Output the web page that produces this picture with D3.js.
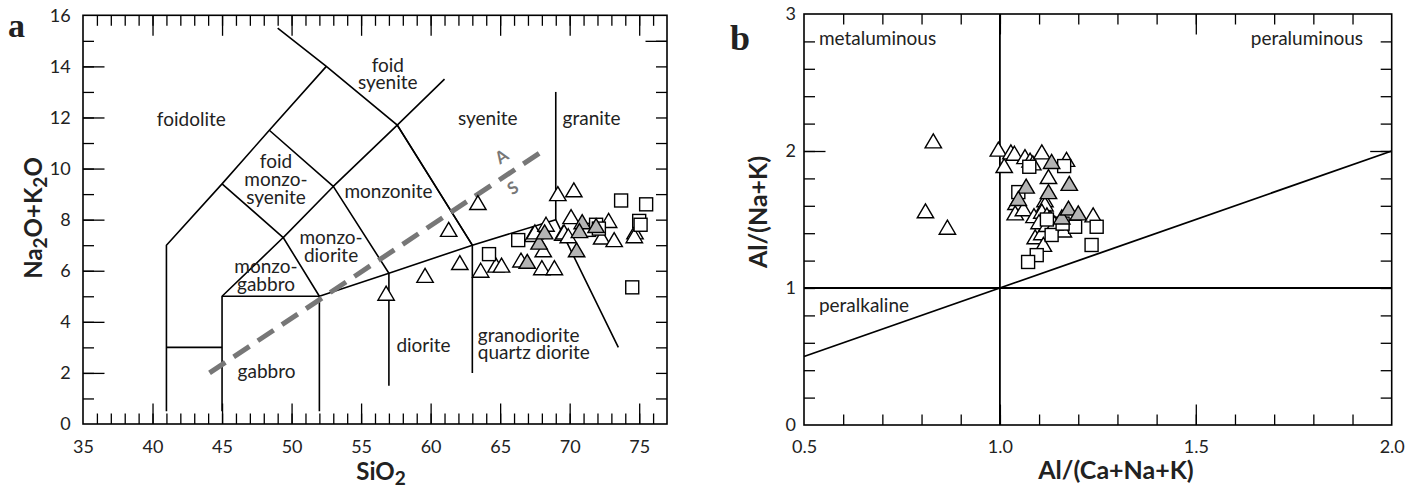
<!DOCTYPE html>
<html><head><meta charset="utf-8">
<script src="https://cdn.jsdelivr.net/npm/d3@7"></script>
<style>
body{margin:0;background:#fff}
svg{display:block}
text{font-family:Lato,'Open Sans',sans-serif;fill:#222}
</style>
</head><body>
<svg id="chart" width="1419" height="493"></svg>
<script>
// ---------- Panel a: TAS (SiO2 vs Na2O+K2O) ----------
const tasXLabels = [35,40,45,50,55,60,65,70,75];
const tasYLabels = [0,2,4,6,8,10,12,14,16];
const tasOpenTri = [[56.8,5.1],[59.6,5.8],[61.3,7.6],[62.1,6.3],[63.4,8.65],[63.6,6.0],[64.7,6.2],[65.1,6.2],
  [66.5,6.4],[67.35,7.4],[67.5,7.5],[68.0,6.1],[68.9,6.1],[68.1,6.8],[68.3,7.8],[69.15,9.0],[70.3,9.15],
  [69.5,7.45],[69.6,7.5],[69.9,7.35],[70.1,8.1],[72.8,7.95],[72.3,7.3],[73.2,7.2],[74.7,7.5],[74.65,7.35]];
const tasGrayTri = [[66.95,6.35],[67.8,7.1],[68.2,7.5],[70.5,6.8],[70.9,7.9],[70.7,7.55],[71.9,7.75]];
const tasSquare = [[64.2,6.65],[66.3,7.2],[71.4,7.6],[71.9,7.8],[72.1,7.65],[73.7,8.75],[75.5,8.6],[75.0,7.95],[75.1,7.8],[74.5,5.35]];
const tasBoundaries = [
  [[49,15.5],[52.5,14],[57.6,11.7],[63,7]],
  [[41,0.5],[41,7],[45,9.4],[48.4,11.5],[52.5,14]],
  [[61,13.5],[57.6,11.7],[53,9.3],[48.4,11.5]],
  [[45,9.4],[49.4,7.3],[53,9.3]],
  [[45,0.5],[45,5],[49.4,7.3],[52,5]],
  [[45,5],[52,5],[52,0.5]],
  [[52,5],[57,5.9],[63,7],[69,8],[73.5,3]],
  [[57,1.5],[57,5.9],[53,9.3]],
  [[63,2],[63,7],[57.6,11.7]],
  [[69,8],[69,13]],
  [[41,3],[45,3]]
];
const tasASLine = [[44.1,2.0],[68.1,10.7]];
const tasFields = [
  {t:["foidolite"], x:42.79, y:11.67, a:"middle"},
  {t:["foid","monzo-","syenite"], x:48.88, y:10.01, a:"middle"},
  {t:["foid","syenite"], x:56.92, y:13.79, a:"middle"},
  {t:["syenite"], x:64.11, y:11.71, a:"middle"},
  {t:["granite"], x:71.58, y:11.71, a:"middle"},
  {t:["monzonite"], x:56.97, y:8.84, a:"middle"},
  {t:["monzo-","diorite"], x:52.84, y:7.05, a:"middle"},
  {t:["monzo-","gabbro"], x:48.16, y:5.90, a:"middle"},
  {t:["gabbro"], x:48.2, y:1.79, a:"middle"},
  {t:["diorite"], x:59.49, y:2.83, a:"middle"},
  {t:["granodiorite","quartz diorite"], x:63.39, y:3.22, a:"start"}
];
const tasASLabels = [{t:"A", x:65.1, y:10.47},{t:"S", x:65.92, y:9.24}];

// ---------- Panel b: A/NK vs A/CNK ----------
const acnkXLabels = [0.5,1.0,1.5,2.0];
const acnkYLabels = [0,1,2,3];
const acnkOpenTri = [[0.83,2.07],[0.81,1.56],[0.866,1.44],
  [0.996,2.01],[1.011,1.89],[1.028,1.99],[1.037,1.98],[1.064,1.955],[1.077,1.93],[1.084,1.91],[1.107,1.99],
  [1.17,1.935],[1.124,1.81],[1.041,1.62],[1.039,1.545],[1.06,1.575],[1.115,1.64],[1.115,1.61],[1.087,1.525],
  [1.107,1.557],[1.12,1.53],[1.128,1.51],[1.238,1.53],[1.162,1.42],[1.09,1.37],[1.107,1.40],[1.111,1.315],
  [1.10,1.48],[1.12,1.46],[1.14,1.47]];
const acnkGrayTri = [[1.132,1.92],[1.177,1.76],[1.067,1.74],[1.047,1.65],[1.124,1.70],[1.158,1.515],[1.175,1.58],[1.20,1.545]];
const acnkSquare = [[1.075,1.885],[1.164,1.89],[1.047,1.70],[1.192,1.447],[1.247,1.447],[1.234,1.314],[1.132,1.387],
  [1.094,1.24],[1.072,1.19],[1.12,1.5],[1.16,1.47]];
const acnkBoundaries = [
  [[1,0],[1,3]],
  [[0.5,1],[2,1]],
  [[0.5,0.5],[2,2]]
];
const acnkFields = [
  {t:"metaluminous", x:0.538, y:2.774, a:"start"},
  {t:"peraluminous", x:1.927, y:2.774, a:"end"},
  {t:"peralkaline", x:0.538, y:0.827, a:"start"}
];

const svg = d3.select("#chart");
const triPath = "M0,-7.5L8.2,6.5L-8.2,6.5Z";
const GRAY = "#b4b4b4";

function range(a,b,s){const r=[];for(let v=a;v<=b+1e-9;v+=s)r.push(+v.toFixed(4));return r;}

function drawTicks(g, x, y, xMinor, xMajor, yMinor, yMajor, yRightMajor){
  const [x0,x1]=x.range(), [y0,y1]=y.range();
  const add=(sel,tr,ax)=>{const gg=g.append("g").attr("transform",tr).call(ax);gg.select(".domain").remove();gg.selectAll("line").attr("stroke","#000").attr("stroke-width",1.3);};
  add(g,`translate(0,${y0})`,d3.axisBottom(x).tickValues(xMinor).tickSize(-10.5).tickFormat(""));
  add(g,`translate(0,${y0})`,d3.axisBottom(x).tickValues(xMajor).tickSize(-20.5).tickFormat(""));
  add(g,`translate(0,${y1})`,d3.axisTop(x).tickValues(xMinor).tickSize(-10.5).tickFormat(""));
  add(g,`translate(0,${y1})`,d3.axisTop(x).tickValues(xMajor).tickSize(-20.5).tickFormat(""));
  add(g,`translate(${x0},0)`,d3.axisLeft(y).tickValues(yMinor).tickSize(-11).tickFormat(""));
  add(g,`translate(${x0},0)`,d3.axisLeft(y).tickValues(yMajor).tickSize(-21.5).tickFormat(""));
  add(g,`translate(${x1},0)`,d3.axisRight(y).tickValues(yMinor).tickSize(-11).tickFormat(""));
  add(g,`translate(${x1},0)`,d3.axisRight(y).tickValues(yRightMajor).tickSize(-21.5).tickFormat(""));
}
function drawLabels(g,x,y,xl,yl,fmtX,fmtY,padB,padL){
  const [x0]=x.range(),[y0]=y.range();
  const gb=g.append("g").attr("transform",`translate(0,${y0})`).call(d3.axisBottom(x).tickValues(xl).tickSize(0).tickPadding(padB).tickFormat(fmtX));
  const gl=g.append("g").attr("transform",`translate(${x0},0)`).call(d3.axisLeft(y).tickValues(yl).tickSize(0).tickPadding(padL).tickFormat(fmtY));
  [gb,gl].forEach(s=>{s.select(".domain").remove();s.attr("font-family",null).attr("font-size",null);
    s.selectAll("text").style("font-family","Lato").style("font-size","18px").attr("fill","#222");});
}
function drawMarkers(g,x,y,open,sq,gray){
  g.append("g").selectAll("path").data(open).join("path").attr("d",triPath)
    .attr("transform",d=>`translate(${x(d[0])},${y(d[1])})`).attr("fill","#fff").attr("stroke","#000").attr("stroke-width",1.4);
  g.append("g").selectAll("rect").data(sq).join("rect")
    .attr("x",d=>x(d[0])-6.5).attr("y",d=>y(d[1])-6.5).attr("width",13).attr("height",13)
    .attr("fill","#fff").attr("stroke","#000").attr("stroke-width",1.4);
  g.append("g").selectAll("path").data(gray).join("path").attr("d",triPath)
    .attr("transform",d=>`translate(${x(d[0])},${y(d[1])})`).attr("fill",GRAY).attr("stroke","#000").attr("stroke-width",1.4);
}

// ===== Panel a =====
{
  const x = d3.scaleLinear().domain([35,77]).range([83,667]);
  const y = d3.scaleLinear().domain([0,16]).range([424,15.3]);
  const g = svg.append("g");
  const line = d3.line().x(d=>x(d[0])).y(d=>y(d[1]));
  g.append("g").selectAll("path").data(tasBoundaries).join("path").attr("d",line)
    .attr("fill","none").attr("stroke","#000").attr("stroke-width",1.6).attr("stroke-linejoin","miter");
  g.append("path").attr("d",line(tasASLine)).attr("fill","none").attr("stroke","#777").attr("stroke-width",5).attr("stroke-dasharray","19,10");
  const ang = Math.atan2(y(tasASLine[1][1])-y(tasASLine[0][1]), x(tasASLine[1][0])-x(tasASLine[0][0]))*180/Math.PI;
  g.append("g").selectAll("text").data(tasASLabels).join("text")
    .attr("transform",d=>`translate(${x(d.x)},${y(d.y)}) rotate(${ang})`).attr("text-anchor","middle").attr("dy","0.35em")
    .style("font-size","17px").style("font-weight","bold").attr("fill","#777").style("fill","#777").text(d=>d.t);
  tasFields.forEach(f=>{
    const t=g.append("text").attr("x",x(f.x)).attr("y",y(f.y)).attr("text-anchor",f.a).style("font-size","19px");
    f.t.forEach((s,i)=>t.append("tspan").attr("x",x(f.x)).attr("dy",i?17.6:0).text(s));
  });
  drawTicks(g,x,y,range(36,76,1),range(40,75,5),range(1,15,1),range(2,14,2),[15]);
  drawMarkers(g,x,y,tasOpenTri,tasSquare,tasGrayTri);
  g.append("rect").attr("x",83).attr("y",15.3).attr("width",667-83).attr("height",424-15.3).attr("fill","none").attr("stroke","#000").attr("stroke-width",1.6);
  drawLabels(g,x,y,tasXLabels,tasYLabels,d3.format("d"),d3.format("d"),16,12.3);
  // axis titles
  const xt=g.append("text").attr("x",381).attr("y",480).attr("text-anchor","middle").style("font-size","24px").style("font-weight","bold");
  xt.append("tspan").text("SiO");xt.append("tspan").attr("dy",5).style("font-size","19px").text("2");
  const yt=g.append("text").attr("transform","translate(42,218) rotate(-90)").attr("text-anchor","middle").style("font-size","24px").style("font-weight","bold");
  yt.append("tspan").text("Na");yt.append("tspan").attr("dy",5).style("font-size","19px").text("2");
  yt.append("tspan").attr("dy",-5).text("O+K");yt.append("tspan").attr("dy",5).style("font-size","19px").text("2");
  yt.append("tspan").attr("dy",-5).text("O");
  g.append("text").attr("x",8).attr("y",37).style("font-family","'Liberation Serif',serif").style("font-size","34px").style("font-weight","bold").text("a");
}

// ===== Panel b =====
{
  const x = d3.scaleLinear().domain([0.5,2]).range([804,1391.7]);
  const y = d3.scaleLinear().domain([0,3]).range([425,14]);
  const g = svg.append("g");
  const line = d3.line().x(d=>x(d[0])).y(d=>y(d[1]));
  drawTicks(g,x,y,range(0.6,1.9,0.1),[1.0,1.5],range(0.2,2.8,0.2),[2],[2]);
  g.append("g").selectAll("path").data(acnkBoundaries).join("path").attr("d",line)
    .attr("fill","none").attr("stroke","#000").attr("stroke-width",1.8);
  g.append("g").selectAll("text").data(acnkFields).join("text")
    .attr("x",d=>x(d.x)).attr("y",d=>y(d.y)).attr("text-anchor",d=>d.a).style("font-size","19px").text(d=>d.t);
  drawMarkers(g,x,y,acnkOpenTri,acnkSquare,acnkGrayTri);
  g.append("rect").attr("x",804).attr("y",14).attr("width",1391.7-804).attr("height",425-14).attr("fill","none").attr("stroke","#000").attr("stroke-width",1.6);
  drawLabels(g,x,y,acnkXLabels,acnkYLabels,d3.format(".1f"),d3.format("d"),15,8);
  g.append("text").attr("x",1116).attr("y",479).attr("text-anchor","middle").style("font-size","25px").style("font-weight","bold").text("Al/(Ca+Na+K)");
  g.append("text").attr("transform","translate(767,212) rotate(-90)").attr("text-anchor","middle").style("font-size","25px").style("font-weight","bold").text("Al/(Na+K)");
  g.append("text").attr("x",730).attr("y",50).style("font-family","'Liberation Serif',serif").style("font-size","36px").style("font-weight","bold").text("b");
}
</script>
</body></html>
